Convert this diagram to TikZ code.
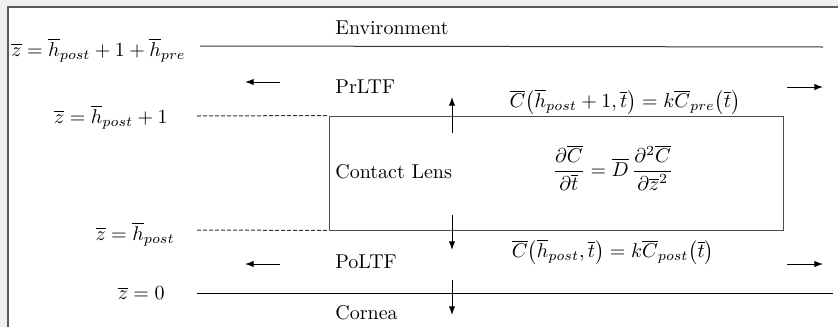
\documentclass[tikz,border=0pt]{standalone}
\usepackage{amsmath}
\usetikzlibrary{
    arrows.meta,
    positioning
}
\begin{document}
\begin{tikzpicture}[
x=0.5pt, y=-0.5pt,
txt/.style={
inner sep=0pt,
font=\fontsize{10}{12}\selectfont
},
lbl/.style={txt, anchor=east},
layer/.style={txt, anchor=west},
bound/.style={line width=0.5pt},
flux/.style={-{Latex[length=1.5mm,width=1.1mm]}, line width=0.5pt}
]

\useasboundingbox (0,0) rectangle (838,327);
\fill[gray!12] (0,0) rectangle (838,327);
\fill[white] (8,7) rectangle (838,327);
\draw[gray!70!black, line width=0.7pt] (8,327) -- (8,7) -- (838,7);

% contact lens box
\node[draw, bound, gray!60!black, minimum width=227pt, minimum height=57pt,
inner sep=0pt] (lens) at (556,173) {};

% boundaries
\coordinate (envL) at (200,46);
\coordinate (envR) at (823,47);
\coordinate (topL) at (197,116);
\coordinate (botL) at (197,230);
\coordinate (corL) at (197,293);
\coordinate (corR) at (833,293);

\draw[bound, gray!40!black] (envL) -- (envR);
\draw[bound, dashed, dash pattern=on 2pt off 1pt, gray!40!black] (topL) -- (lens.north west);
\draw[bound, dashed, dash pattern=on 2pt off 1pt, gray!40!black] (botL) -- (lens.south west);
\draw[bound] (corL) -- (corR);

% z labels
\node[lbl] (zpre) at (186,50)
{$\overline{z}=\overline{h}_{post}+1+\overline{h}_{pre}$};
\node[lbl] (ztop) at (168,117)
{$\overline{z}=\overline{h}_{post}+1$};
\node[lbl] (zbot) at (175,234)
{$\overline{z}=\overline{h}_{post}$};
\node[lbl] (zzero) at (165,293)
{$\overline{z}=0$};

% layer names
\node[layer] (env) at (335,28) {Environment};
\node[layer] (prltf) at (335,87) {PrLTF};
\node[layer] (cl) at (335,172) {Contact Lens};
\node[layer] (poltf) at (335,262) {PoLTF};
\node[layer] (cornea) at (335,313) {Cornea};

% equations
\node[txt] (bctop) at (625,102)
{$\overline{C}\bigl(\overline{h}_{post}+1,\overline{t}\bigr)=k\overline{C}_{pre}\bigl(\overline{t}\bigr)$};
\node[txt] (pde) at (613,168)
{$\dfrac{\partial\overline{C}}{\partial\overline{t}}=\overline{D}\,\dfrac{\partial^{2}\overline{C}}{\partial\overline{z}^{2}}$};
\node[txt] (bcbot) at (613,252)
{$\overline{C}\bigl(\overline{h}_{post},\overline{t}\bigr)=k\overline{C}_{post}\bigl(\overline{t}\bigr)$};

% flux arrows
\coordinate (prA) at (280,82);
\coordinate (prB) at (245,82);
\coordinate (prC) at (787,87);
\coordinate (prD) at (823,87);
\coordinate (poA) at (280,264);
\coordinate (poB) at (245,264);
\coordinate (poC) at (787,264);
\coordinate (poD) at (823,264);
\coordinate (upA) at (452,133);
\coordinate (upB) at (452,97);
\coordinate (dnA) at (452,215);
\coordinate (dnB) at (452,250);
\coordinate (crA) at (452,280);
\coordinate (crB) at (452,315);

\draw[flux] (prA) -- (prB);
\draw[flux] (prC) -- (prD);
\draw[flux] (poA) -- (poB);
\draw[flux] (poC) -- (poD);
\draw[flux] (upA) -- (upB);
\draw[flux] (dnA) -- (dnB);
\draw[flux] (crA) -- (crB);

\end{tikzpicture}
\end{document}
